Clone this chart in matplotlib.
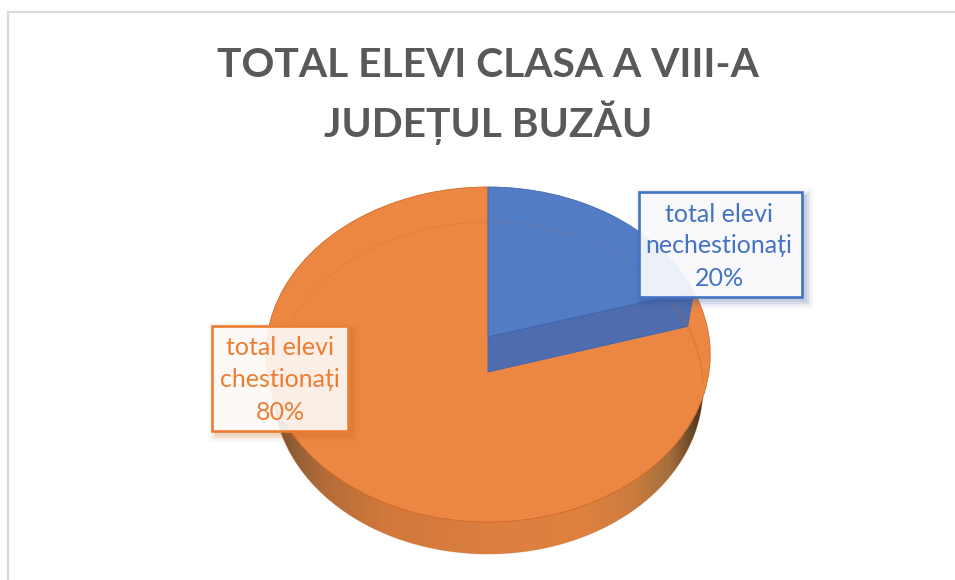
import numpy as np
import matplotlib
matplotlib.use("Agg")
import matplotlib.pyplot as plt
from matplotlib.colors import LinearSegmentedColormap
from matplotlib.patches import PathPatch, Rectangle
from matplotlib.path import Path
from matplotlib.transforms import Transform

# ---- data ----
title_lines = ["TOTAL ELEVI CLASA A VIII-A", "JUDEȚUL BUZĂU"]
categories = ["total elevi\nnechestionați", "total elevi\nchestionați"]
values = [20.4, 79.6]
colors = ["#527CC4", "#EC8743"]
text_colors = ["#4472C4", "#ED7D31"]
shadow_colors = ["#2F4F8F", "#C4621F"]
edge_colors = ["#3F68B0", "#CF6A26"]

plt.rcParams["font.family"] = ["Lato", "DejaVu Sans"]
W, H = 955, 580
fig = plt.figure(figsize=(W / 100, H / 100), dpi=100, facecolor="white")
ax = fig.add_axes([0, 0, 1, 1])


class Tilt(Transform):
    """Perspective view of a pie disc, into pixel-sized axes units."""
    input_dims = output_dims = 2

    def __init__(self, k, a, b, c):
        super().__init__()
        self.k, self.a, self.b, self.c = k, a, b, c

    def transform_non_affine(self, xy):
        xy = np.asarray(xy, float)
        u, v = xy[:, 0], xy[:, 1]
        den = 1 + self.c * v
        return np.column_stack([488 + self.k * u / den,
                                (self.b + self.a * v) / den])


top_disc = Tilt(221, -130.5, 337, 0.1045)
bottom_disc = Tilt(214, -128.6, 372, 0.0964)

wedges, _ = ax.pie(values, startangle=90, counterclock=False, colors=colors,
                   radius=1, center=(0, 0))
ax.set_aspect("auto")
ax.axis("off")

t = np.linspace(0, 2 * np.pi, 721)
circle = np.column_stack([np.cos(t), np.sin(t)])
bottom_outline = bottom_disc.transform_non_affine(circle)

# side wall: the lower disc, shaded horizontally, showing below the top surface
wall_patch = PathPatch(Path(bottom_outline), facecolor="none", edgecolor="none",
                       transform=ax.transData)
ax.add_patch(wall_patch)
cmap = LinearSegmentedColormap.from_list("wall", [
    (0.00, "#6E4A2E"), (0.04, "#8E5D36"), (0.12, "#B56C39"), (0.25, "#D0773B"),
    (0.50, "#DC7F3F"), (0.72, "#DF8240"), (0.84, "#C97C3E"), (0.92, "#A56E3B"),
    (0.97, "#6B4A2C"), (1.00, "#3E2E22")])
grad = np.linspace(0, 1, 431).reshape(1, -1)
im = ax.imshow(grad, cmap=cmap, extent=(273, 704, 600, 200), aspect="auto",
               zorder=1, interpolation="bilinear")
im.set_clip_path(wall_patch)
ax.plot(bottom_outline[:, 0], bottom_outline[:, 1], color="#C4651F", lw=0.5,
        alpha=0.45, zorder=1.5)
ax.set_xlim(0, W)
ax.set_ylim(H, 0)

# top surface, from the pie's own wedges
for w, edge in zip(wedges, edge_colors):
    w.set_transform(top_disc + ax.transData)
    w.set_edgecolor(edge)
    w.set_linewidth(0.6)
wedges[1].set_zorder(2)
wedges[0].set_zorder(2.2)

# cut face below the smaller slice
th_end = np.deg2rad(90 - 360 * values[0] / sum(values))
corner = np.array([[np.cos(th_end), np.sin(th_end)]])
apex = np.array([[0.0, 0.0]])
face = np.vstack([top_disc.transform_non_affine(apex), top_disc.transform_non_affine(corner),
                  bottom_disc.transform_non_affine(corner),
                  bottom_disc.transform_non_affine(apex)])
ax.fill(face[:, 0], face[:, 1], color="#4E6CAE", ec="#3F68B0", lw=0.7, zorder=2.4)

# lower disc rim showing faintly through the top surface
a = np.linspace(np.pi + 0.05, 0.45, 300)
arc = bottom_disc.transform_non_affine(np.column_stack([np.cos(a), np.sin(a)]))
ax.plot(arc[:, 0], arc[:, 1], color="#B05A20", lw=0.6, alpha=0.2, zorder=2.5)
a = np.linspace(0.45, -0.06, 60)
arc = bottom_disc.transform_non_affine(np.column_stack([np.cos(a), np.sin(a)]))
ax.plot(arc[:, 0], arc[:, 1], color="#C9601C", lw=0.7, alpha=0.5, zorder=2.5)

# title
for line, y in zip(title_lines, [77, 137]):
    ax.text(488, y, line, ha="center", va="baseline", fontsize=29.3, fontweight="bold",
            color="#595959", zorder=6)

# frame
ax.plot([7.5, 7.5, W], [H, 12, 12], color="#D9D9D9", lw=1.6, zorder=0.5,
        solid_joinstyle="miter")


# data label boxes
def label(x0, y0, x1, y1, name, val, col, shadow, fill_alpha, baselines, cx):
    for grow, alpha in [(8, 0.025), (6, 0.04), (4, 0.06), (2.5, 0.08), (1, 0.1)]:
        ax.add_patch(Rectangle((x0 + 4 - grow, y0 + 4 - grow), x1 - x0 + 2 * grow,
                               y1 - y0 + 2 * grow, fc=shadow, ec="none", alpha=alpha, zorder=3))
    ax.add_patch(Rectangle((x0, y0), x1 - x0, y1 - y0, fc="white", ec="none",
                           alpha=fill_alpha, zorder=3.2))
    ax.add_patch(Rectangle((x0, y0), x1 - x0, y1 - y0, fc="none", ec=col, lw=1.9, zorder=3.4))
    l1, l2 = name.split("\n")
    for s, by in zip([l1, l2, f"{round(val)}%"], baselines):
        ax.text(cx, by, s, ha="center", va="baseline", fontsize=18,
                color=col, zorder=4)


label(638.5, 192, 802, 297, categories[0], values[0], text_colors[0], shadow_colors[0],
      0.9, [222, 253, 286], 719)
label(212, 326, 347.5, 431, categories[1], values[1], text_colors[1], shadow_colors[1],
      0.88, [355, 387, 420], 280)

fig.savefig("out.png", dpi=100, facecolor="white")
